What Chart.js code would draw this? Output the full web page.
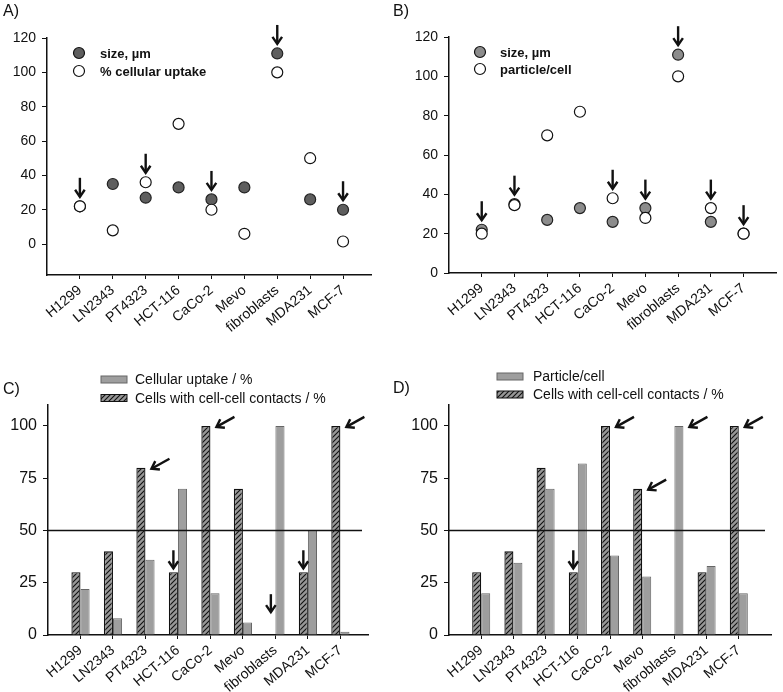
<!DOCTYPE html>
<html><head><meta charset="utf-8">
<script src="https://cdn.jsdelivr.net/npm/chart.js@4/dist/chart.umd.min.js"></script>
<style>
body{margin:0;background:#fff;width:783px;height:692px;position:relative;overflow:hidden;font-family:"Liberation Sans",Arial,sans-serif}
.p{position:absolute}
.lbl{position:absolute;font-size:16px;line-height:16px;color:#111}
</style></head><body>
<div class="p" style="left:0;top:0"><canvas id="cA" width="390" height="340"></canvas></div>
<div class="p" style="left:390px;top:0"><canvas id="cB" width="393" height="340"></canvas></div>
<div class="p" style="left:0;top:340px"><canvas id="cC" width="390" height="352"></canvas></div>
<div class="p" style="left:390px;top:340px"><canvas id="cD" width="393" height="352"></canvas></div>
<div class="lbl" style="left:3px;top:3px">A)</div>
<div class="lbl" style="left:393px;top:3px">B)</div>
<div class="lbl" style="left:3px;top:381px">C)</div>
<div class="lbl" style="left:393px;top:380px">D)</div>
<script>
// ---------- data ----------
const categories = ['H1299','LN2343','PT4323','HCT-116','CaCo-2','Mevo','fibroblasts','MDA231','MCF-7'];
const sizeUm = [22, 35, 27, 33, 26, 33, 111, 26, 20];
const cellularUptake = [22, 8, 36, 70, 20, 6, 100, 50, 1.5];
const particlePerCell = [20, 34.5, 70, 82, 38, 28, 100, 33, 20];
const cellContacts = [30, 40, 80, 30, 100, 70, 0, 30, 100];
const yTicksAB = [0, 20, 40, 60, 80, 100, 120];
const yTicksCD = [0, 25, 50, 75, 100];
const thresholdLine = 50;
const arrowsA = [{cat:'H1299',kind:'down'},{cat:'PT4323',kind:'down'},{cat:'CaCo-2',kind:'down'},{cat:'fibroblasts',kind:'down'},{cat:'MCF-7',kind:'down'}];
const arrowsB = [{cat:'H1299',kind:'down'},{cat:'LN2343',kind:'down'},{cat:'CaCo-2',kind:'down'},{cat:'Mevo',kind:'down'},{cat:'fibroblasts',kind:'down'},{cat:'MDA231',kind:'down'},{cat:'MCF-7',kind:'down'}];
const arrowsC = [{cat:'PT4323',kind:'diag',series:0},{cat:'CaCo-2',kind:'diag',series:0},{cat:'MCF-7',kind:'diag',series:0},{cat:'HCT-116',kind:'down',series:0},{cat:'fibroblasts',kind:'down',series:0,at:9},{cat:'MDA231',kind:'down',series:0}];
const arrowsD = [{cat:'CaCo-2',kind:'diag',series:0},{cat:'Mevo',kind:'diag',series:0},{cat:'fibroblasts',kind:'diag',series:1},{cat:'MCF-7',kind:'diag',series:0},{cat:'HCT-116',kind:'down',series:0}];

// ---------- helpers ----------
Chart.defaults.font.family = '"Liberation Sans", Arial, sans-serif';
Chart.defaults.color = '#111';
const toXY = arr => arr.map((v,i)=>({x:i, y:v}));
const INK = '#111';

function hatch(){
  const c = document.createElement('canvas'); c.width = 5; c.height = 5;
  const g = c.getContext('2d');
  g.fillStyle = '#979797'; g.fillRect(0,0,5,5);
  g.strokeStyle = '#111'; g.lineWidth = 1.1;
  g.beginPath();
  g.moveTo(0,5); g.lineTo(5,0);
  g.moveTo(-1,1); g.lineTo(1,-1);
  g.moveTo(4,6); g.lineTo(6,4);
  g.stroke();
  return g.createPattern(c,'repeat');
}
const HATCH = hatch();

function drawArrow(ctx,x1,y1,x2,y2){
  ctx.save();
  ctx.strokeStyle = INK; ctx.lineWidth = 2.4; ctx.lineCap='butt'; ctx.lineJoin='miter';
  ctx.beginPath(); ctx.moveTo(x1,y1); ctx.lineTo(x2,y2); ctx.stroke();
  const a = Math.atan2(y2-y1,x2-x1), hl = 8.5, hw = 0.6;
  ctx.beginPath();
  ctx.moveTo(x2-hl*Math.cos(a-hw), y2-hl*Math.sin(a-hw));
  ctx.lineTo(x2,y2);
  ctx.lineTo(x2-hl*Math.cos(a+hw), y2-hl*Math.sin(a+hw));
  ctx.stroke();
  ctx.restore();
}

function decor(cfg){
  return {
    id:'decor',
    afterDatasetsDraw(chart){
      const ctx = chart.ctx, xs = chart.scales.x, ys = chart.scales.y, ca = chart.chartArea;
      if (cfg.hline !== undefined){
        const y = ys.getPixelForValue(cfg.hline);
        ctx.save(); ctx.strokeStyle = INK; ctx.lineWidth = 1.5;
        ctx.beginPath(); ctx.moveTo(ca.left, y); ctx.lineTo(ca.right-6, y); ctx.stroke(); ctx.restore();
      }
      (cfg.arrows||[]).forEach(a=>{
        const i = categories.indexOf(a.cat);
        if (cfg.mode === 'scatter'){
          const x = xs.getPixelForValue(i);
          let top = Infinity;
          chart.data.datasets.forEach(d=>{ top = Math.min(top, ys.getPixelForValue(d.data[i].y)); });
          const tip = top - 5.5 - 4;
          drawArrow(ctx, x, tip-19, x, tip);
        } else {
          const el = chart.getDatasetMeta(a.series).data[i];
          const top = a.at !== undefined ? ys.getPixelForValue(a.at) : el.y;
          if (a.kind === 'down'){
            drawArrow(ctx, el.x, top-4-18, el.x, top-4);
          } else {
            const tx = el.x + el.width/2 + 6, ty = top + 1;
            drawArrow(ctx, tx+18, ty-10, tx, ty);
          }
        }
      });
      // legend
      const L = cfg.legend;
      ctx.save();
      ctx.textBaseline = 'middle'; ctx.textAlign = 'left'; ctx.fillStyle = INK;
      L.items.forEach(it=>{
        if (L.type === 'marker'){
          ctx.beginPath(); ctx.arc(L.mx, it.y, 5.5, 0, Math.PI*2);
          ctx.fillStyle = it.fill; ctx.fill();
          ctx.lineWidth = 1.2; ctx.strokeStyle = INK; ctx.stroke();
          ctx.fillStyle = INK; ctx.font = 'bold 13px "Liberation Sans", Arial';
          ctx.fillText(it.text, L.tx, it.y+1);
        } else {
          ctx.fillStyle = it.fill; ctx.fillRect(L.bx, it.y-3.5, 26, 7);
          ctx.lineWidth = 1; ctx.strokeStyle = it.edge; ctx.strokeRect(L.bx, it.y-3.5, 26, 7);
          ctx.fillStyle = INK; ctx.font = '14px "Liberation Sans", Arial';
          ctx.fillText(it.text, L.tx, it.y+1);
        }
      });
      ctx.restore();
    }
  };
}

function xScale(max, h){
  return {
    type:'linear', min:-1, max:max, offset:false,
    afterBuildTicks: s => { s.ticks = categories.map((c,i)=>({value:i})); },
    afterFit: s => { s.height = h; },
    ticks:{ callback: v => categories[v], minRotation:40, maxRotation:40, autoSkip:false, padding:3,
            font:{size:14}, color:INK },
    grid:{ offset:false, drawOnChartArea:false, drawTicks:true, tickLength:4, color:INK, lineWidth:1 },
    border:{ color:INK, width:1.5 }
  };
}
function yScale(min, max, tickVals, w, fs){
  return {
    min:min, max:max,
    afterBuildTicks: s => { s.ticks = tickVals.map(v=>({value:v})); },
    afterFit: s => { s.width = w; },
    ticks:{ padding:6, font:{size:fs}, color:INK },
    grid:{ drawOnChartArea:false, drawTicks:true, tickLength:5, color:INK, lineWidth:1 },
    border:{ color:INK, width:1.5 }
  };
}
const common = { responsive:false, animation:false, events:[], plugins:{legend:{display:false}, tooltip:{enabled:false}} };

// ---------- A ----------
new Chart(document.getElementById('cA'), {
  type:'scatter',
  data:{ datasets:[
    { label:'% cellular uptake', data:toXY(cellularUptake), pointRadius:5.5, backgroundColor:'#fff', borderColor:INK, borderWidth:1.2, order:0 },
    { label:'size, µm', data:toXY(sizeUm), pointRadius:5.5, backgroundColor:'#5e5e5e', borderColor:'#222', borderWidth:1.2, order:1 }
  ]},
  options:Object.assign({}, common, {
    layout:{ padding:{ left:0, top:38, right:19, bottom:0 } },
    scales:{ x:xScale(8.85, 65), y:yScale(-18, 120, yTicksAB, 47, 14) }
  }),
  plugins:[decor({ mode:'scatter', arrows:arrowsA,
    legend:{ type:'marker', mx:79, tx:100, items:[{y:53, fill:'#5e5e5e', text:'size, µm'},{y:71, fill:'#fff', text:'% cellular uptake'}] } })]
});

// ---------- B ----------
new Chart(document.getElementById('cB'), {
  type:'scatter',
  data:{ datasets:[
    { label:'particle/cell', data:toXY(particlePerCell), pointRadius:5.5, backgroundColor:'#fff', borderColor:INK, borderWidth:1.2, order:0 },
    { label:'size, µm', data:toXY(sizeUm), pointRadius:5.5, backgroundColor:'#8c8c8c', borderColor:'#222', borderWidth:1.2, order:1 }
  ]},
  options:Object.assign({}, common, {
    layout:{ padding:{ left:0, top:37, right:5, bottom:0 } },
    scales:{ x:xScale(9, 67), y:yScale(0, 120, yTicksAB, 59, 14) }
  }),
  plugins:[decor({ mode:'scatter', arrows:arrowsB,
    legend:{ type:'marker', mx:90, tx:110, items:[{y:52, fill:'#8c8c8c', text:'size, µm'},{y:69, fill:'#fff', text:'particle/cell'}] } })]
});

// ---------- C ----------
const barCommon = { categoryPercentage:0.56, barPercentage:1 };
new Chart(document.getElementById('cC'), {
  type:'bar',
  data:{ datasets:[
    Object.assign({ label:'Cells with cell-cell contacts / %', data:toXY(cellContacts), backgroundColor:HATCH, borderColor:INK, borderWidth:1.3 }, barCommon),
    Object.assign({ label:'Cellular uptake / %', data:toXY(cellularUptake), backgroundColor:'#9e9e9e', borderColor:'#666', borderWidth:1 }, barCommon)
  ]},
  options:Object.assign({}, common, {
    layout:{ padding:{ left:0, top:65, right:22, bottom:0 } },
    scales:{ x:xScale(8.85, 57), y:yScale(0, 110, yTicksCD, 48, 16) }
  }),
  plugins:[decor({ mode:'bar', hline:thresholdLine, arrows:arrowsC,
    legend:{ type:'box', bx:101, tx:135, items:[{y:39.5, fill:'#9e9e9e', edge:'#666', text:'Cellular uptake / %'},{y:58, fill:HATCH, edge:INK, text:'Cells with cell-cell contacts / %'}] } })]
});

// ---------- D ----------
new Chart(document.getElementById('cD'), {
  type:'bar',
  data:{ datasets:[
    Object.assign({ label:'Cells with cell-cell contacts / %', data:toXY(cellContacts), backgroundColor:HATCH, borderColor:INK, borderWidth:1.3 }, barCommon),
    Object.assign({ label:'Particle/cell', data:toXY(particlePerCell), backgroundColor:'#9e9e9e', borderColor:'#666', borderWidth:1 }, barCommon)
  ]},
  options:Object.assign({}, common, {
    layout:{ padding:{ left:0, top:65, right:12, bottom:0 } },
    scales:{ x:xScale(9, 57), y:yScale(0, 110, yTicksCD, 59, 16) }
  }),
  plugins:[decor({ mode:'bar', hline:thresholdLine, arrows:arrowsD,
    legend:{ type:'box', bx:107, tx:143, items:[{y:36.5, fill:'#9e9e9e', edge:'#666', text:'Particle/cell'},{y:54.5, fill:HATCH, edge:INK, text:'Cells with cell-cell contacts / %'}] } })]
});
</script>
</body></html>
